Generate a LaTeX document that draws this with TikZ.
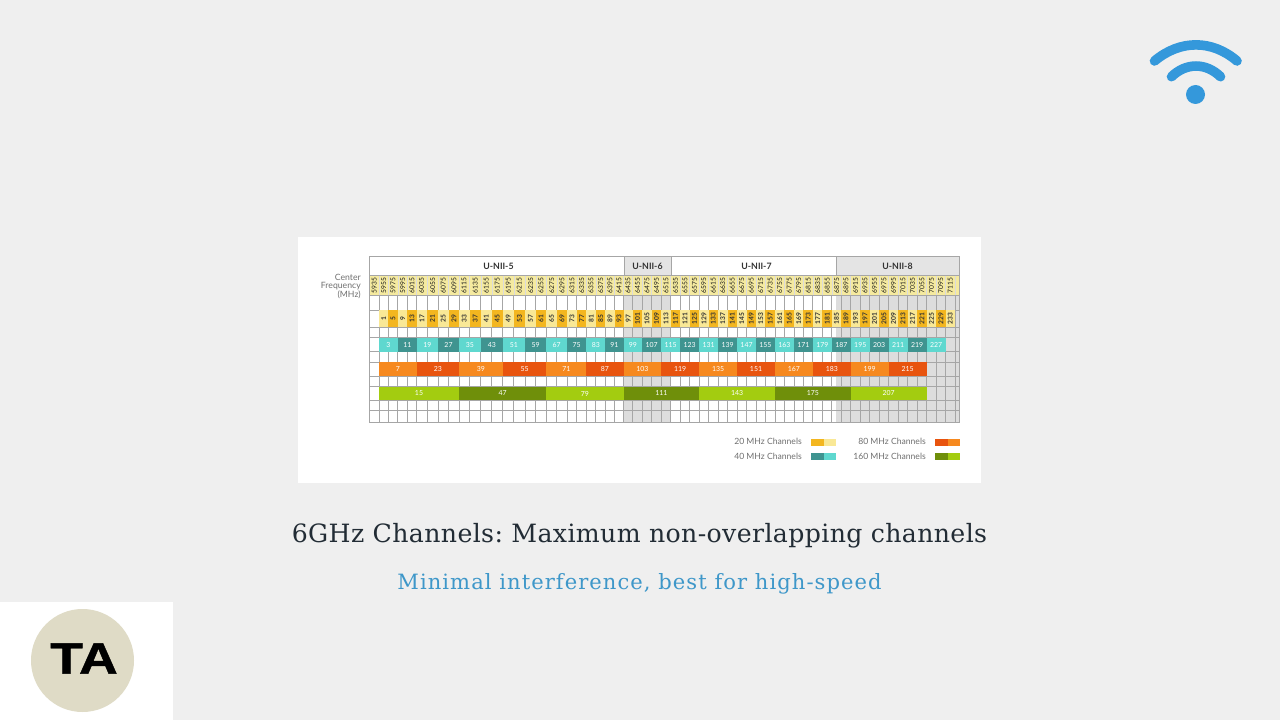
\documentclass[tikz,border=0pt]{standalone}
\usepackage{fontspec}
\setmainfont{DejaVu Serif}
\newfontfamily\titlefont[LetterSpace=1.45]{DejaVu Serif}
\newfontfamily\subfont[LetterSpace=5]{DejaVu Serif}
\newfontfamily\chartfont{Lato}
\newfontfamily\logofont[FakeBold=1]{Liberation Sans}
\definecolor{pagebg}{HTML}{EFEFEF}
\definecolor{titleink}{HTML}{222C35}
\definecolor{subink}{HTML}{3E97C9}
\definecolor{wifi}{HTML}{3498DB}
\definecolor{logobg}{HTML}{DFDBC6}
\definecolor{gridline}{HTML}{A6A6A6}
\definecolor{bandgray}{HTML}{DDDDDD}
\definecolor{freqbg}{HTML}{F5EA9F}
\definecolor{yellowA}{HTML}{F9E896}
\definecolor{yellowB}{HTML}{F3B61F}
\definecolor{tealA}{HTML}{5FD8CF}
\definecolor{tealB}{HTML}{3F9490}
\definecolor{orangeA}{HTML}{F6891F}
\definecolor{orangeB}{HTML}{E8540F}
\definecolor{limeA}{HTML}{A3CC10}
\definecolor{limeB}{HTML}{6F8F0A}
\definecolor{legendink}{HTML}{707070}
\tikzset{
  hdrlabel/.style={font=\chartfont\bfseries\fontsize{6.6}{7}\selectfont,text=black!80,inner sep=0pt},
  freqlabel/.style={font=\chartfont\fontsize{5}{5}\selectfont,text=black!90,rotate=90,inner sep=0pt},
  chlabel/.style={font=\chartfont\bfseries\fontsize{5}{5}\selectfont,text=black!80,rotate=90,inner sep=0pt},
  bandlabel/.style={font=\chartfont\fontsize{5.2}{6}\selectfont,text=white,inner sep=0pt},
  legendlabel/.style={font=\chartfont\fontsize{6.45}{7}\selectfont,text=legendink,inner sep=0pt,anchor=east},
  sidelabel/.style={font=\chartfont\fontsize{6.5}{7}\selectfont,text=legendink,inner sep=0pt,anchor=east},
  gridrule/.style={draw=gridline,line width=0.55pt},
}
\foreach \v [count=\n from 0] in {364.7,374.3,383.7,393,402.7,412,421.5,432.7,443.3,454,464,475.3,486.3,497.3,508.3,519.3,530.7,541,551.7,562,572,581.7,591,600.7,610,619,628,637.5,647,656.4,665.9,675.4,684.9,694.4,703.8,713.3,722.8,732.3,741.8,751.2,760.7,770.2,779.7,789.2,798.6,808.1,817.6,827.1,836.6,846,855.5,865,874.5,884,893.4,902.9,912.4,921.9,931.4,940.8,950.3,959.5}{\expandafter\xdef\csname colx\n\endcsname{\v}}
% left edge of column #1 -> \edgeval
\newcommand{\coledge}[1]{\pgfmathtruncatemacro\ea{#1}\pgfmathtruncatemacro\eb{#1+1}\edef\va{\csname colx\ea\endcsname}\edef\vb{\csname colx\eb\endcsname}\pgfmathsetmacro\edgeval{(\va+\vb)/2}}
% \chband{first col}{last col}{y1}{y2}{colour}{label}{style}{name}
\newcommand{\chband}[8]{%
  \coledge{#1}\let\bl\edgeval
  \pgfmathtruncatemacro\nxt{#2+1}\coledge{\nxt}\let\br\edgeval
  \fill[#5] (\bl,#3) rectangle (\br,#4);
  \node[#7] (#8) at ({(\bl+\br)/2},{(#3+#4)/2}) {#6};
}
\frenchspacing
\begin{document}
\begin{tikzpicture}[x=0.75pt,y=-0.75pt]
\useasboundingbox (0,0) rectangle (1280,720);
\fill[pagebg] (0,0) rectangle (1280,720);
% chart card
\fill[white] (298,237) rectangle (981,483);
% shaded bands
\fill[bandgray] (624,295.5) rectangle (671,422.5);
\fill[bandgray] (836,295.5) rectangle (959.5,422.5);
% header cells
\draw[gridrule,fill=white] (369.5,256.8) rectangle (624,275.5);
\draw[gridrule,fill=bandgray!80!white] (624,256.8) rectangle (671,275.5);
\draw[gridrule,fill=white] (671,256.8) rectangle (836,275.5);
\draw[gridrule,fill=bandgray!80!white] (836,256.8) rectangle (959.5,275.5);
\node[hdrlabel] (h5) at (498.5,266.5) {U-NII-5};
\node[hdrlabel] (h6) at (647.5,266.5) {U-NII-6};
\node[hdrlabel] (h7) at (756.5,266.5) {U-NII-7};
\node[hdrlabel] (h8) at (897.5,266.5) {U-NII-8};
% frequency row
\fill[freqbg] (369.5,275.5) rectangle (959.5,295.5);
\foreach \i in {0,...,60}{
  \coledge{\i}
  \draw[white!60!gridline,line width=0.45pt] (\edgeval,275.5) -- (\edgeval,295.5);
  \draw[gridrule] (\edgeval,295.5) -- (\edgeval,422.5);
}
\draw[gridrule] (369.5,275.5) -- (369.5,422.5);
\draw[gridrule] (959.5,275.5) -- (959.5,422.5);
\foreach \yy in {295.5,310,327,337.7,351.7,362.3,376,386.7,400.3,410.7,422.5}{
  \draw[gridrule] (369.5,\yy) -- (959.5,\yy);
}
\foreach \i in {0,...,59}{
  \pgfmathtruncatemacro\fq{5935+20*\i}
  \pgfmathtruncatemacro\cl{\i+1}
  \edef\xc{\csname colx\cl\endcsname}
  \node[freqlabel] (f\i) at (\xc,285.5) {\fq};
}
% 20 MHz
\foreach \k in {1,...,59}{
  \pgfmathtruncatemacro\ch{4*\k-3}
  \pgfmathtruncatemacro\odd{mod(\k,2)}
  \ifnum\odd=1 \def\cc{yellowA}\else\def\cc{yellowB}\fi
  \chband{\k}{\k}{310}{327}{\cc}{\ch}{chlabel}{c\ch}
}
% 40 MHz
\foreach \j in {0,...,28}{
  \pgfmathtruncatemacro\ch{3+8*\j}
  \pgfmathtruncatemacro\sa{1+2*\j}
  \pgfmathtruncatemacro\sb{2+2*\j}
  \pgfmathtruncatemacro\odd{mod(\j,2)}
  \ifnum\odd=0 \def\cc{tealA}\else\def\cc{tealB}\fi
  \chband{\sa}{\sb}{337.7}{351.7}{\cc}{\ch}{bandlabel}{c\ch}
}
% 80 MHz
\foreach \j in {0,...,13}{
  \pgfmathtruncatemacro\ch{7+16*\j}
  \pgfmathtruncatemacro\sa{1+4*\j}
  \pgfmathtruncatemacro\sb{4+4*\j}
  \pgfmathtruncatemacro\odd{mod(\j,2)}
  \ifnum\odd=0 \def\cc{orangeA}\else\def\cc{orangeB}\fi
  \chband{\sa}{\sb}{362.3}{376}{\cc}{\ch}{bandlabel}{c\ch}
}
% 160 MHz
\foreach \j in {0,...,6}{
  \pgfmathtruncatemacro\ch{15+32*\j}
  \pgfmathtruncatemacro\sa{1+8*\j}
  \pgfmathtruncatemacro\sb{8+8*\j}
  \pgfmathtruncatemacro\odd{mod(\j,2)}
  \ifnum\odd=0 \def\cc{limeA}\else\def\cc{limeB}\fi
  \chband{\sa}{\sb}{386.7}{400.3}{\cc}{\ch}{bandlabel}{c\ch}
}
% side label
\node[sidelabel] (s1) at (361,277.5) {Center};
\node[sidelabel] (s2) at (361,286) {Frequency};
\node[sidelabel] (s3) at (361,295) {(MHz)};
% legend
\node[legendlabel] (l20) at (802,441.5) {20 MHz Channels};
\node[legendlabel] (l40) at (802,456.5) {40 MHz Channels};
\node[legendlabel] (l80) at (926,441.5) {80 MHz Channels};
\node[legendlabel] (l160) at (926,456.5) {160 MHz Channels};
\fill[yellowB] (811,439) rectangle (823.5,445.7);
\fill[yellowA] (823.5,439) rectangle (836,445.7);
\fill[tealB] (811,453.3) rectangle (823.5,459.7);
\fill[tealA] (823.5,453.3) rectangle (836,459.7);
\fill[orangeB] (935,439) rectangle (947.5,445.7);
\fill[orangeA] (947.5,439) rectangle (960,445.7);
\fill[limeB] (935,453.3) rectangle (947.5,459.7);
\fill[limeA] (947.5,453.3) rectangle (960,459.7);
% titles
\node[inner sep=0pt,text=titleink,font=\titlefont\fontsize{18.9}{24}\selectfont] (title) at (639.5,535.5) {6GHz Channels: Maximum non-overlapping channels};
\node[inner sep=0pt,text=subink,font=\subfont\fontsize{15.8}{20}\selectfont] (subtitle) at (639.5,583.5) {Minimal interference, best for high-speed};
% wifi icon
\draw[wifi,line width=7.2pt,line cap=round] (1154.5,61) .. controls (1180,39.5) and (1212,39.5) .. (1237,61);
\draw[wifi,line width=7.2pt,line cap=round] (1171.5,76.7) .. controls (1186,62.5) and (1206,62.5) .. (1220.5,76.7);
\fill[wifi] (1195.5,94.5) circle[radius=9.5];
% logo
\fill[white] (0,602) rectangle (173,720);
\fill[logobg] (82.5,660.5) circle[radius=51.5];
\node[inner sep=0pt,text=black,font=\logofont\bfseries\fontsize{33}{35}\selectfont,xscale=1.22] (logo) at (84,658.5) {TA};
\end{tikzpicture}
\end{document}
